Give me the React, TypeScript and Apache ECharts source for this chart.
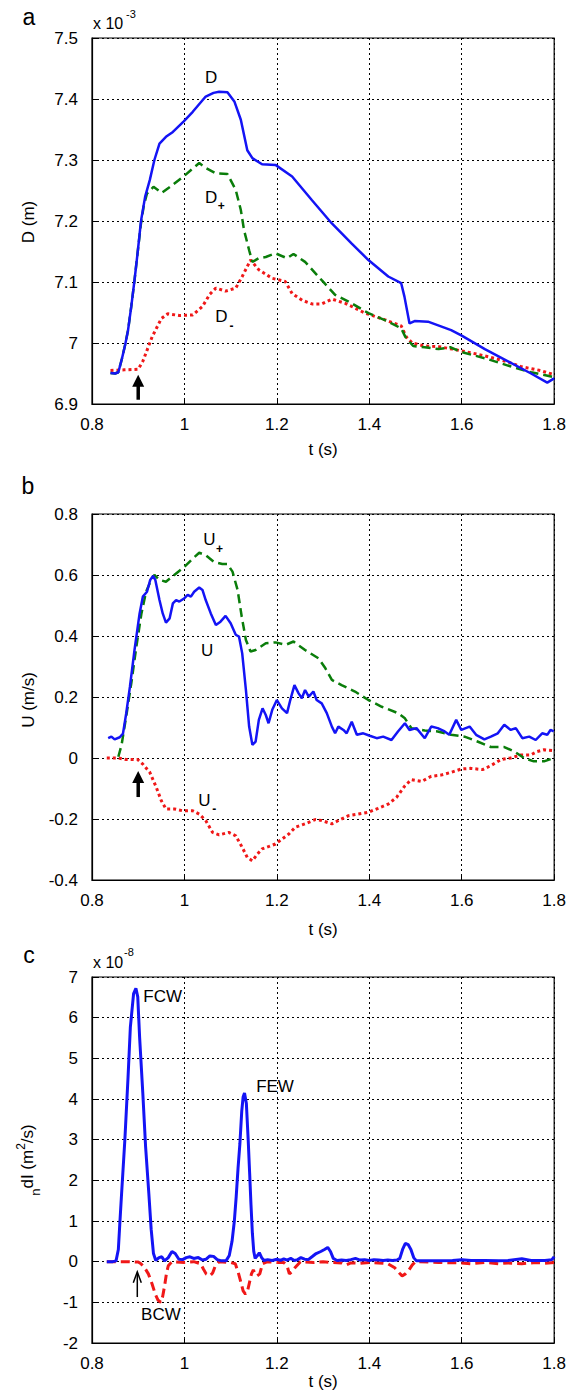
import React, { useEffect, useRef } from "react";
import * as echarts from "echarts";

// ---------- data ----------
const xTicksMin = 0.8;
const xTicksMax = 1.8;
const xTickStep = 0.2;

const yRangeA = [6.9, 7.5, 0.1];
const yRangeB = [-0.4, 0.8, 0.2];
const yRangeC = [-2, 7, 1];

// Panel a: D (solid), D+ (dashed), D- (dotted)  [t (s), D (x1e-3 m)]
const dTotal = [
  [0.840, 6.951], [0.850, 6.950], [0.857, 6.952], [0.865, 6.975], [0.872, 6.998], [0.878, 7.021],
  [0.885, 7.06], [0.892, 7.103], [0.899, 7.15], [0.906, 7.200], [0.915, 7.24], [0.925, 7.267],
  [0.935, 7.30], [0.946, 7.327], [0.960, 7.338], [0.975, 7.346], [0.998, 7.363], [1.018, 7.379],
  [1.046, 7.404], [1.063, 7.41], [1.075, 7.412], [1.093, 7.411], [1.108, 7.396], [1.122, 7.366],
  [1.136, 7.316], [1.147, 7.303], [1.168, 7.293], [1.197, 7.292], [1.233, 7.273], [1.276, 7.234],
  [1.319, 7.196], [1.362, 7.163], [1.398, 7.136], [1.441, 7.109], [1.469, 7.098], [1.476, 7.076],
  [1.487, 7.032], [1.498, 7.036], [1.527, 7.035], [1.577, 7.021], [1.600, 7.012], [1.65, 6.99],
  [1.70, 6.97], [1.75, 6.95], [1.785, 6.935], [1.80, 6.942],
];
const dPlus = [
  [0.840, 6.951], [0.850, 6.950], [0.857, 6.952], [0.865, 6.975], [0.872, 6.998], [0.878, 7.021],
  [0.885, 7.06], [0.892, 7.103], [0.899, 7.15], [0.906, 7.196], [0.912, 7.225], [0.919, 7.245],
  [0.933, 7.256], [0.951, 7.246], [0.969, 7.256], [0.998, 7.273], [1.032, 7.295], [1.046, 7.287],
  [1.068, 7.278], [1.093, 7.277], [1.111, 7.251], [1.122, 7.218], [1.129, 7.185], [1.140, 7.152],
  [1.147, 7.133], [1.161, 7.139], [1.176, 7.141], [1.197, 7.147], [1.222, 7.139], [1.236, 7.146],
  [1.261, 7.133], [1.297, 7.103], [1.326, 7.079], [1.355, 7.068], [1.398, 7.049], [1.441, 7.035],
  [1.469, 7.024], [1.478, 7.01], [1.495, 6.995], [1.52, 6.993], [1.55, 6.99], [1.575, 6.993],
  [1.60, 6.985], [1.65, 6.975], [1.70, 6.963], [1.75, 6.952], [1.80, 6.944],
];
const dMinus = [
  [0.840, 6.955], [0.870, 6.956], [0.900, 6.957], [0.910, 6.97], [0.920, 6.99], [0.930, 7.01],
  [0.940, 7.025], [0.950, 7.04], [0.964, 7.048], [0.989, 7.045], [1.018, 7.046], [1.039, 7.06],
  [1.055, 7.08], [1.068, 7.090], [1.089, 7.085], [1.111, 7.090], [1.125, 7.109], [1.143, 7.136],
  [1.161, 7.120], [1.190, 7.106], [1.218, 7.101], [1.233, 7.081], [1.255, 7.07], [1.276, 7.064],
  [1.297, 7.064], [1.319, 7.072], [1.348, 7.065], [1.391, 7.049], [1.434, 7.038], [1.469, 7.028],
  [1.480, 7.01], [1.493, 7.0], [1.52, 6.995], [1.55, 6.994], [1.58, 6.99], [1.62, 6.984],
  [1.66, 6.977], [1.70, 6.969], [1.73, 6.961], [1.77, 6.955], [1.80, 6.948],
];

// Panel b: U (solid), U+ (dashed), U- (dotted)  [t (s), U (m/s)]
const uTotal = [
  [0.835, 0.065], [0.842, 0.07], [0.849, 0.061], [0.860, 0.068], [0.867, 0.08], [0.874, 0.146],
  [0.882, 0.233], [0.892, 0.354], [0.903, 0.474], [0.910, 0.529], [0.919, 0.545], [0.926, 0.584],
  [0.932, 0.597], [0.937, 0.584], [0.946, 0.518], [0.953, 0.474], [0.960, 0.444], [0.968, 0.458],
  [0.975, 0.507], [0.982, 0.518], [0.989, 0.513], [1.000, 0.524], [1.007, 0.535], [1.014, 0.529],
  [1.021, 0.545], [1.032, 0.559], [1.039, 0.551], [1.046, 0.518], [1.057, 0.474], [1.068, 0.436],
  [1.078, 0.447], [1.089, 0.466], [1.100, 0.442], [1.111, 0.404], [1.118, 0.398], [1.125, 0.343],
  [1.133, 0.223], [1.140, 0.103], [1.147, 0.043], [1.154, 0.054], [1.161, 0.125], [1.169, 0.163],
  [1.176, 0.141], [1.182, 0.114], [1.190, 0.158], [1.200, 0.190], [1.211, 0.163], [1.222, 0.147],
  [1.229, 0.190], [1.238, 0.239], [1.247, 0.212], [1.254, 0.196], [1.261, 0.223], [1.269, 0.201],
  [1.279, 0.218], [1.286, 0.190], [1.297, 0.179], [1.308, 0.147], [1.319, 0.103], [1.326, 0.081],
  [1.333, 0.103], [1.344, 0.092], [1.351, 0.081], [1.362, 0.119], [1.373, 0.076], [1.387, 0.081],
  [1.401, 0.073], [1.416, 0.065], [1.430, 0.070], [1.448, 0.059], [1.462, 0.087], [1.477, 0.114],
  [1.487, 0.092], [1.502, 0.098], [1.520, 0.065], [1.534, 0.103], [1.548, 0.098], [1.563, 0.087],
  [1.573, 0.076], [1.588, 0.125], [1.599, 0.092], [1.617, 0.103], [1.631, 0.076], [1.649, 0.061],
  [1.663, 0.070], [1.678, 0.081], [1.692, 0.109], [1.706, 0.092], [1.717, 0.098], [1.731, 0.065],
  [1.746, 0.070], [1.760, 0.059], [1.774, 0.081], [1.785, 0.076], [1.792, 0.092], [1.799, 0.087],
];
const uPlus = [
  [0.857, 0.004], [0.864, 0.043], [0.874, 0.136], [0.885, 0.245], [0.896, 0.365], [0.907, 0.474],
  [0.917, 0.545], [0.928, 0.584], [0.935, 0.600], [0.946, 0.584], [0.960, 0.578], [0.978, 0.600],
  [1.000, 0.627], [1.018, 0.654], [1.032, 0.673], [1.046, 0.665], [1.064, 0.643], [1.082, 0.636],
  [1.093, 0.636], [1.104, 0.611], [1.115, 0.551], [1.124, 0.463], [1.133, 0.387], [1.143, 0.349],
  [1.154, 0.354], [1.176, 0.376], [1.197, 0.379], [1.219, 0.371], [1.236, 0.382], [1.261, 0.354],
  [1.290, 0.327], [1.305, 0.294], [1.319, 0.256], [1.340, 0.239], [1.369, 0.218], [1.398, 0.190],
  [1.427, 0.168], [1.462, 0.147], [1.477, 0.130], [1.491, 0.098], [1.520, 0.090], [1.548, 0.087],
  [1.577, 0.076], [1.606, 0.070], [1.634, 0.054], [1.663, 0.036], [1.692, 0.036], [1.713, 0.022],
  [1.735, 0.000], [1.756, -0.011], [1.778, -0.011], [1.799, 0.000],
];
const uMinus = [
  [0.832, 0], [0.857, 0], [0.874, -0.005], [0.899, -0.005], [0.910, -0.02], [0.925, -0.047],
  [0.939, -0.096], [0.950, -0.14], [0.960, -0.167], [0.978, -0.167], [0.996, -0.173], [1.018, -0.173],
  [1.032, -0.184], [1.046, -0.205], [1.061, -0.244], [1.075, -0.252], [1.096, -0.244], [1.111, -0.255],
  [1.125, -0.293], [1.136, -0.326], [1.147, -0.337], [1.158, -0.315], [1.168, -0.298], [1.183, -0.29],
  [1.197, -0.282], [1.211, -0.266], [1.226, -0.249], [1.240, -0.227], [1.261, -0.216], [1.283, -0.202],
  [1.297, -0.205], [1.319, -0.216], [1.333, -0.205], [1.355, -0.189], [1.376, -0.184], [1.398, -0.178],
  [1.419, -0.165], [1.441, -0.151], [1.459, -0.129], [1.477, -0.091], [1.491, -0.071], [1.513, -0.077],
  [1.534, -0.06], [1.555, -0.056], [1.577, -0.047], [1.599, -0.036], [1.620, -0.034], [1.645, -0.038],
  [1.663, -0.025], [1.685, -0.005], [1.706, 0], [1.728, 0.01], [1.749, 0.01], [1.763, 0.021],
  [1.778, 0.027], [1.799, 0.024],
];

// Panel c: forward (solid) and backward (dashed) ndI  [t (s), x1e-8 m^2/s]
const dIForward = [
  [0.832, 0], [0.845, 0], [0.852, 0.02], [0.857, 0.3], [0.860, 0.9], [0.864, 1.67], [0.871, 2.98],
  [0.878, 4.54], [0.883, 5.77], [0.890, 6.59], [0.895, 6.72], [0.899, 6.51], [0.903, 5.52],
  [0.910, 4.13], [0.916, 2.82], [0.923, 1.67], [0.928, 0.8], [0.933, 0.2], [0.938, 0.03],
  [0.945, 0.1], [0.951, 0.12], [0.957, 0.02], [0.965, 0.1], [0.973, 0.25], [0.980, 0.2],
  [0.988, 0.06], [0.996, 0.05], [1.004, 0.1], [1.012, 0.12], [1.020, 0.08], [1.030, 0.1],
  [1.039, 0.04], [1.047, 0.06], [1.055, 0.14], [1.063, 0.13], [1.071, 0.05], [1.080, 0.02],
  [1.090, 0.02], [1.097, 0.15], [1.103, 0.5], [1.108, 1.0], [1.112, 1.6], [1.116, 2.3],
  [1.120, 2.9], [1.124, 3.7], [1.127, 4.05], [1.130, 4.15], [1.134, 3.89], [1.138, 2.98],
  [1.141, 2.2], [1.144, 1.4], [1.147, 0.7], [1.150, 0.25], [1.153, 0.08], [1.158, 0.15],
  [1.162, 0.22], [1.167, 0.1], [1.172, 0.03], [1.180, 0.05], [1.190, 0.03], [1.200, 0.06],
  [1.208, 0.03], [1.215, 0.07], [1.222, 0.04], [1.230, 0.08], [1.238, 0.03], [1.245, 0.05],
  [1.252, 0.1], [1.260, 0.06], [1.268, 0.05], [1.276, 0.12], [1.285, 0.2], [1.295, 0.25],
  [1.303, 0.3], [1.310, 0.35], [1.316, 0.25], [1.322, 0.08], [1.330, 0.03], [1.340, 0.04],
  [1.350, 0.03], [1.360, 0.05], [1.370, 0.08], [1.380, 0.04], [1.390, 0.05], [1.400, 0.03],
  [1.410, 0.05], [1.420, 0.04], [1.430, 0.03], [1.440, 0.04], [1.450, 0.03], [1.460, 0.04],
  [1.466, 0.08], [1.472, 0.3], [1.478, 0.45], [1.484, 0.42], [1.490, 0.3], [1.496, 0.1],
  [1.502, 0.02], [1.52, 0.02], [1.55, 0.02], [1.58, 0.03], [1.60, 0.05], [1.62, 0.03],
  [1.65, 0.03], [1.68, 0.02], [1.70, 0.03], [1.73, 0.07], [1.75, 0.03], [1.78, 0.03],
  [1.795, 0.05], [1.80, 0.12],
];
const dIBackward = [
  [0.832, 0], [0.880, 0], [0.900, -0.01], [0.906, -0.05], [0.914, -0.15], [0.922, -0.3],
  [0.930, -0.55], [0.937, -0.8], [0.943, -0.95], [0.949, -1.0], [0.953, -0.85], [0.957, -0.6],
  [0.961, -0.3], [0.965, -0.1], [0.973, 0], [1.000, -0.02], [1.020, 0], [1.035, -0.05],
  [1.041, -0.18], [1.047, -0.3], [1.055, -0.35], [1.061, -0.28], [1.067, -0.1], [1.075, 0],
  [1.100, -0.02], [1.110, -0.05], [1.116, -0.25], [1.122, -0.5], [1.127, -0.72], [1.132, -0.8],
  [1.137, -0.7], [1.141, -0.5], [1.145, -0.3], [1.149, -0.2], [1.153, -0.3], [1.157, -0.35],
  [1.163, -0.3], [1.169, -0.05], [1.180, 0], [1.200, -0.02], [1.215, -0.02], [1.222, -0.1],
  [1.227, -0.3], [1.233, -0.25], [1.239, -0.15], [1.251, 0], [1.280, -0.02], [1.300, 0],
  [1.320, -0.02], [1.340, -0.03], [1.350, -0.08], [1.360, -0.03], [1.380, -0.04], [1.400, -0.02],
  [1.420, -0.03], [1.440, -0.05], [1.455, -0.15], [1.465, -0.28], [1.471, -0.35], [1.478, -0.3],
  [1.486, -0.2], [1.493, -0.08], [1.500, 0], [1.55, -0.02], [1.60, -0.03], [1.62, -0.05],
  [1.65, -0.02], [1.68, -0.05], [1.70, -0.03], [1.73, -0.05], [1.76, -0.02], [1.78, -0.04],
  [1.80, -0.02],
];

// Annotations (data coordinates)
const curveLabels = [
  { g: 0, t: 1.058, v: 7.436, text: "D", sub: "" },
  { g: 0, t: 1.058, v: 7.239, text: "D", sub: "+" },
  { g: 0, t: 1.080, v: 7.043, text: "D", sub: "-" },
  { g: 1, t: 1.054, v: 0.715, text: "U", sub: "+" },
  { g: 1, t: 1.049, v: 0.354, text: "U", sub: "" },
  { g: 1, t: 1.043, v: -0.138, text: "U", sub: "-" },
  { g: 2, t: 0.953, v: 6.51, text: "FCW", sub: "" },
  { g: 2, t: 1.196, v: 4.30, text: "FEW", sub: "" },
  { g: 2, t: 0.949, v: -1.31, text: "BCW", sub: "" },
];
const arrows = [
  { g: 0, t: 0.9, from: 6.907, to: 6.948, thick: true },
  { g: 1, t: 0.9, from: -0.128, to: -0.043, thick: true },
  { g: 2, t: 0.898, from: -0.87, to: -0.25, thick: false },
];

// ---------- styling ----------
const FONT = '"Liberation Sans", Arial, Helvetica, sans-serif';
const BLUE = "#1414f5";
const GREEN = "#0a7d0a";
const RED = "#f01818";

const fmt = (v: number) => {
  const r = Math.round(v * 10) / 10;
  return String(r === 0 ? 0 : r);
};

const GRID_TOPS = [38, 514, 977];
const GRID_H = 366;

function makeX(i: number, nameGap: number) {
  return {
    type: "value",
    gridIndex: i,
    min: xTicksMin,
    max: xTicksMax,
    interval: xTickStep,
    name: "t (s)",
    nameLocation: "middle",
    nameGap,
    nameTextStyle: { color: "#000", fontSize: 17, fontFamily: FONT },
    axisLine: { show: true, onZero: false, lineStyle: { color: "#000", width: 1.2 } },
    axisTick: { show: true, inside: true, length: 5, lineStyle: { color: "#000" } },
    axisLabel: { color: "#000", fontSize: 17, fontFamily: FONT, margin: 12, formatter: fmt },
    splitLine: { show: true, lineStyle: { color: "#000", type: [2, 3], width: 1 } },
  };
}
function makeY(i: number, r: number[]) {
  return {
    type: "value",
    gridIndex: i,
    min: r[0],
    max: r[1],
    interval: r[2],
    axisLine: { show: true, onZero: false, lineStyle: { color: "#000", width: 1.2 } },
    axisTick: { show: true, inside: true, length: 5, lineStyle: { color: "#000" } },
    axisLabel: { color: "#000", fontSize: 17, fontFamily: FONT, margin: 14, formatter: fmt },
    splitLine: { show: true, lineStyle: { color: "#000", type: [2, 3], width: 1 } },
  };
}
function line(i: number, data: number[][], color: string, type: any, width: number) {
  return {
    type: "line",
    xAxisIndex: i,
    yAxisIndex: i,
    data,
    showSymbol: false,
    symbol: "none",
    smooth: false,
    lineStyle: { color, width, type, cap: "butt" },
    z: 3,
  };
}

export default function App() {
  const ref = useRef<HTMLDivElement>(null);
  useEffect(() => {
    document.body.style.margin = "0";
    const chart = echarts.init(ref.current!, null, { renderer: "svg" });
    const option: any = {
      animation: false,
      backgroundColor: "#fff",
      grid: GRID_TOPS.map((top) => ({
        left: 92,
        right: 12,
        top,
        height: GRID_H,
        show: true,
        borderColor: "#000",
        borderWidth: 1.2,
        backgroundColor: "transparent",
      })),
      xAxis: [makeX(0, 37), makeX(1, 41), makeX(2, 28)],
      yAxis: [makeY(0, yRangeA), makeY(1, yRangeB), makeY(2, yRangeC)],
      series: [
        line(0, dMinus, RED, [3, 3], 3),
        line(0, dPlus, GREEN, [9, 5], 2.5),
        line(0, dTotal, BLUE, "solid", 2.5),
        line(1, uMinus, RED, [3, 3], 3),
        line(1, uPlus, GREEN, [9, 5], 2.5),
        line(1, uTotal, BLUE, "solid", 2.5),
        line(2, dIBackward, RED, [9, 5], 3),
        line(2, dIForward, BLUE, "solid", 3),
      ],
    };
    chart.setOption(option);

    const px = (g: number, x: number, y: number) =>
      chart.convertToPixel({ gridIndex: g } as any, [x, y]) as number[];

    const graphics: any[] = [];
    const txt = (x: number, y: number, text: string, size: number, extra: any = {}) => ({
      type: "text",
      x,
      y,
      z: 10,
      ...extra,
      style: {
        text,
        fill: "#000",
        fontSize: size,
        fontFamily: FONT,
        textAlign: "center",
        textVerticalAlign: "middle",
        align: "center",
        verticalAlign: "middle",
        ...(extra.style || {}),
      },
    });

    // panel letters
    graphics.push(txt(29, 17, "a", 23));
    graphics.push(txt(28, 486, "b", 23));
    graphics.push(txt(29, 955, "c", 23));
    // multipliers
    graphics.push(txt(93, 23, "x 10", 16, { style: { textAlign: "left", align: "left" } }));
    graphics.push(txt(126, 14, "-3", 11, { style: { textAlign: "left", align: "left" } }));
    graphics.push(txt(93, 962, "x 10", 16, { style: { textAlign: "left", align: "left" } }));
    graphics.push(txt(124, 952, "-8", 11, { style: { textAlign: "left", align: "left" } }));
    // y-axis names (rotated)
    graphics.push(txt(28, 222, "D (m)", 17, { rotation: Math.PI / 2 }));
    graphics.push(txt(28, 700, "U (m/s)", 17, { rotation: Math.PI / 2 }));
    graphics.push({
      type: "text",
      x: 27,
      y: 1160,
      rotation: Math.PI / 2,
      z: 10,
      style: {
        text: "{s|n}{b|dI (m}{p|2}{b|/s)}",
        fill: "#000",
        fontFamily: FONT,
        fontSize: 17,
        textAlign: "center",
        textVerticalAlign: "middle",
        align: "center",
        verticalAlign: "middle",
        rich: {
          b: { fontSize: 17, fontFamily: FONT, fill: "#000", lineHeight: 30, verticalAlign: "middle" },
          s: { fontSize: 13, fontFamily: FONT, fill: "#000", lineHeight: 30, verticalAlign: "bottom" },
          p: { fontSize: 12, fontFamily: FONT, fill: "#000", lineHeight: 30, verticalAlign: "top", padding: [3, 0, 0, 0] },
        },
      },
    });

    // curve labels
    curveLabels.forEach((l) => {
      const [x, y] = px(l.g, l.t, l.v);
      graphics.push(txt(x, y, l.text, 17));
      if (l.sub) {
        graphics.push(txt(x + 10, y + 9, l.sub, 12, { style: { fontWeight: "bold" } }));
      }
    });

    // arrows
    arrows.forEach((a) => {
      const [x, y0] = px(a.g, a.t, a.from);
      const [, y1] = px(a.g, a.t, a.to);
      if (a.thick) {
        graphics.push({
          type: "line",
          z: 10,
          shape: { x1: x, y1: y0, x2: x, y2: y1 + 10 },
          style: { stroke: "#000", lineWidth: 3.5 },
        });
        graphics.push({
          type: "polygon",
          z: 10,
          shape: { points: [[x - 6, y1 + 12], [x + 6, y1 + 12], [x, y1]] },
          style: { fill: "#000" },
        });
      } else {
        graphics.push({
          type: "line",
          z: 10,
          shape: { x1: x, y1: y0, x2: x, y2: y1 + 1 },
          style: { stroke: "#000", lineWidth: 1.5 },
        });
        graphics.push({
          type: "polyline",
          z: 10,
          shape: { points: [[x - 4, y1 + 11], [x, y1], [x + 4, y1 + 11]] },
          style: { stroke: "#000", lineWidth: 1.5, fill: null },
        });
      }
    });

    chart.setOption({ graphic: graphics });
    return () => chart.dispose();
  }, []);
  return <div ref={ref} style={{ width: 569, height: 1396 }} />;
}
